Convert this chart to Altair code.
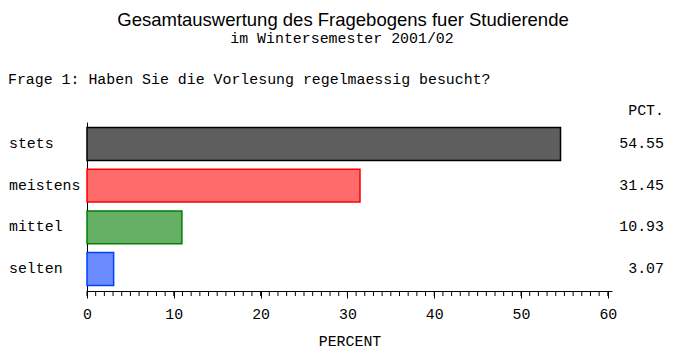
import altair as alt
import pandas as pd

# ---- data ----
categories = ["stets", "meistens", "mittel", "selten"]
percents = [54.55, 31.45, 10.93, 3.07]
fill_colors = ["#5e5e5e", "#ff6a6a", "#66b066", "#6a8cff"]
stroke_colors = ["#000000", "#ff0000", "#008000", "#0040ff"]
major_ticks = [0, 10, 20, 30, 40, 50, 60]
minor_ticks = list(range(0, 61))

title_text = "Gesamtauswertung des Fragebogens fuer Studierende"
subtitle_text = "im Wintersemester 2001/02"
question_text = "Frage 1: Haben Sie die Vorlesung regelmaessig besucht?"
pct_header = "PCT."
x_title = "PERCENT"

MONO = "Liberation Mono"
SANS = "Liberation Sans"
FS = 14.9

df = pd.DataFrame({"category": categories, "percent": percents})
ticks_df = pd.DataFrame({"percent": minor_ticks})

x_scale = alt.Scale(domain=[0, 60.48], nice=False, zero=True)
x_axis = alt.Axis(values=major_ticks, tickSize=7, tickColor="black", tickWidth=1,
                  domainColor="black", domainWidth=1, labelFont=MONO, labelFontSize=FS,
                  labelColor="black", labelPadding=8, title=None, grid=False,
                  labelFlush=False)
y_scale = alt.Scale(paddingInner=0.21, paddingOuter=0.13)
y_axis = alt.Axis(labels=False, ticks=False, domain=True, domainColor="black",
                  domainWidth=1, title=None, grid=False)


def X(field):
    return alt.X(field, type="quantitative", scale=x_scale, axis=x_axis)


def Y():
    return alt.Y("category:N", sort=categories, scale=y_scale, axis=y_axis)


bars = alt.Chart(df).mark_bar(strokeWidth=1.5).encode(
    x=X("percent"),
    y=Y(),
    fill=alt.Fill("category:N", scale=alt.Scale(domain=categories, range=fill_colors), legend=None),
    stroke=alt.Stroke("category:N", scale=alt.Scale(domain=categories, range=stroke_colors), legend=None),
)

cat_labels = alt.Chart(df).mark_text(align="left", baseline="middle", font=MONO,
                                     fontSize=FS, color="black").encode(
    y=Y(), x=alt.value(-78), text="category:N")

value_labels = alt.Chart(df).mark_text(align="right", baseline="middle", font=MONO,
                                       fontSize=FS, color="black").encode(
    y=Y(), x=alt.value(577), text=alt.Text("percent:Q", format=".2f"))

minor = alt.Chart(ticks_df).mark_rule(color="black", strokeWidth=1).encode(
    x=X("percent"), y=alt.value(169), y2=alt.value(174))


def label(text, x, y, font, size, align):
    return alt.Chart(pd.DataFrame({"t": [text]})).mark_text(
        align=align, baseline="alphabetic", font=font, fontSize=size, color="black"
    ).encode(text="t:N", x=alt.value(x), y=alt.value(y))


t1 = label(title_text, 256, -96, SANS, 18.5, "center")
t2 = label(subtitle_text, 255, -79, MONO, FS, "center")
t3 = label(question_text, -79, -38, MONO, FS, "left")
t4 = label(pct_header, 577, -7, MONO, FS, "right")
t5 = label(x_title, 263, 224, MONO, FS, "center")

chart = alt.layer(bars, minor, cat_labels, value_labels, t1, t2, t3, t4, t5).properties(
    width=525, height=169,
    padding={"left": 79, "top": 114, "right": 60, "bottom": 60},
    autosize="none",
    background="white",
).configure_view(stroke=None)

chart.save("out.html", embed_options={"renderer": "svg", "actions": False})
